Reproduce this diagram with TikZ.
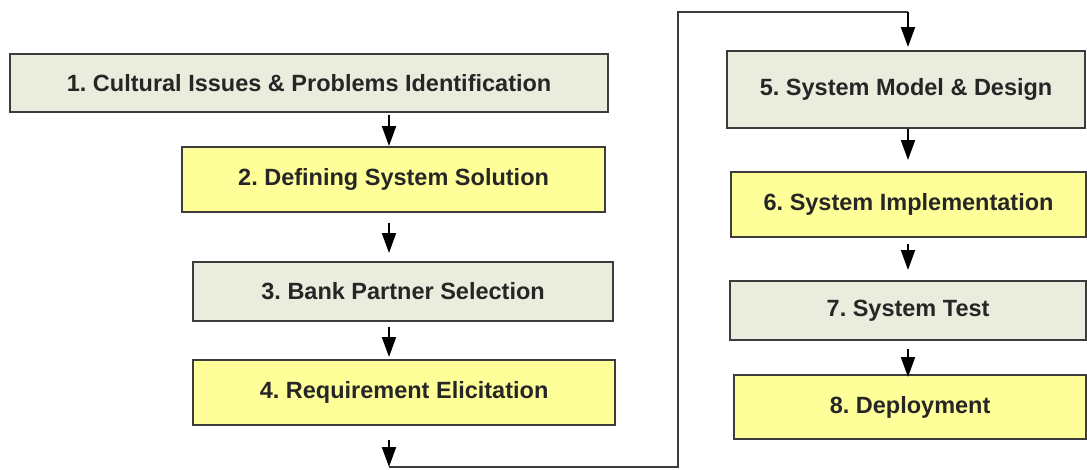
\documentclass[tikz,border=0pt]{standalone}
\usepackage{fontspec}
\setmainfont{Liberation Sans}
\usetikzlibrary{arrows.meta}
\frenchspacing

\definecolor{phasegray}{RGB}{234,237,221}
\definecolor{phaseyellow}{RGB}{255,255,153}
\definecolor{phaseline}{RGB}{60,60,60}
\definecolor{phasetext}{RGB}{38,38,38}

\begin{document}
\begin{tikzpicture}[x=1pt, y=-1pt,
		phase/.style={draw=phaseline, line width=2.2pt, anchor=north west, inner sep=0pt,
			text=phasetext, font=\fontsize{23.5}{27}\selectfont\bfseries},
		flow/.style={-{Triangle[length=20pt, width=14pt]}, line width=2pt, black}]
		\useasboundingbox (0, 0) rectangle (1087, 469);
		% left column
		\node[phase, fill=phasegray, minimum width=598pt, minimum height=58pt] (ident) at (9, 53) {1. Cultural Issues \& Problems Identification};
		\node[phase, fill=phaseyellow, minimum width=423pt, minimum height=65pt] (solution) at (181, 146) {2. Defining System Solution};
		\node[phase, fill=phasegray, minimum width=420pt, minimum height=59pt] (partner) at (192, 261) {3. Bank Partner Selection};
		\node[phase, fill=phaseyellow, minimum width=422pt, minimum height=65pt] (elicit) at (192, 359) {4. Requirement Elicitation};
		% right column
		\node[phase, fill=phasegray, minimum width=358pt, minimum height=77pt] (design) at (726, 50) {5. System Model \& Design};
		\node[phase, fill=phaseyellow, minimum width=355pt, minimum height=65pt] (implement) at (730, 171) {6. System Implementation};
		\node[phase, fill=phasegray, minimum width=356pt, minimum height=59pt] (systest) at (729, 280) {7. System Test};
		\node[phase, fill=phaseyellow, minimum width=352pt, minimum height=64pt] (deploy) at (733, 374) {8. Deployment};
		\coordinate (colL) at (389, 0);
		\coordinate (colR) at (908, 0);
		\coordinate (bendA) at (389, 467);
		\coordinate (bendB) at (678, 467);
		\coordinate (bendC) at (678, 12);
		\coordinate (bendD) at (908, 12);
		\draw [flow, shorten <=2pt] (ident.south -| colL) -- (solution.north -| colL);
		\draw [flow, shorten <=10pt, shorten >=8pt] (solution.south -| colL) -- (partner.north -| colL);
		\draw [flow, shorten <=5pt, shorten >=2pt] (partner.south -| colL) -- (elicit.north -| colL);
		\draw [flow, shorten <=14pt] (elicit.south -| colL) -- (bendA);
		\draw [line width=2pt, phaseline] (bendA) -- (bendB) -- (bendC) -- (bendD);
		\draw [flow, shorten >=3pt] (bendD) -- (design.north -| colR);
		\draw [flow, shorten >=11pt] (design.south -| colR) -- (implement.north -| colR);
		\draw [flow, shorten <=6pt, shorten >=10pt] (implement.south -| colR) -- (systest.north -| colR);
		\draw [flow, shorten <=8pt, shorten >=-3pt] (systest.south -| colR) -- (deploy.north -| colR);
	\end{tikzpicture}
\end{document}
